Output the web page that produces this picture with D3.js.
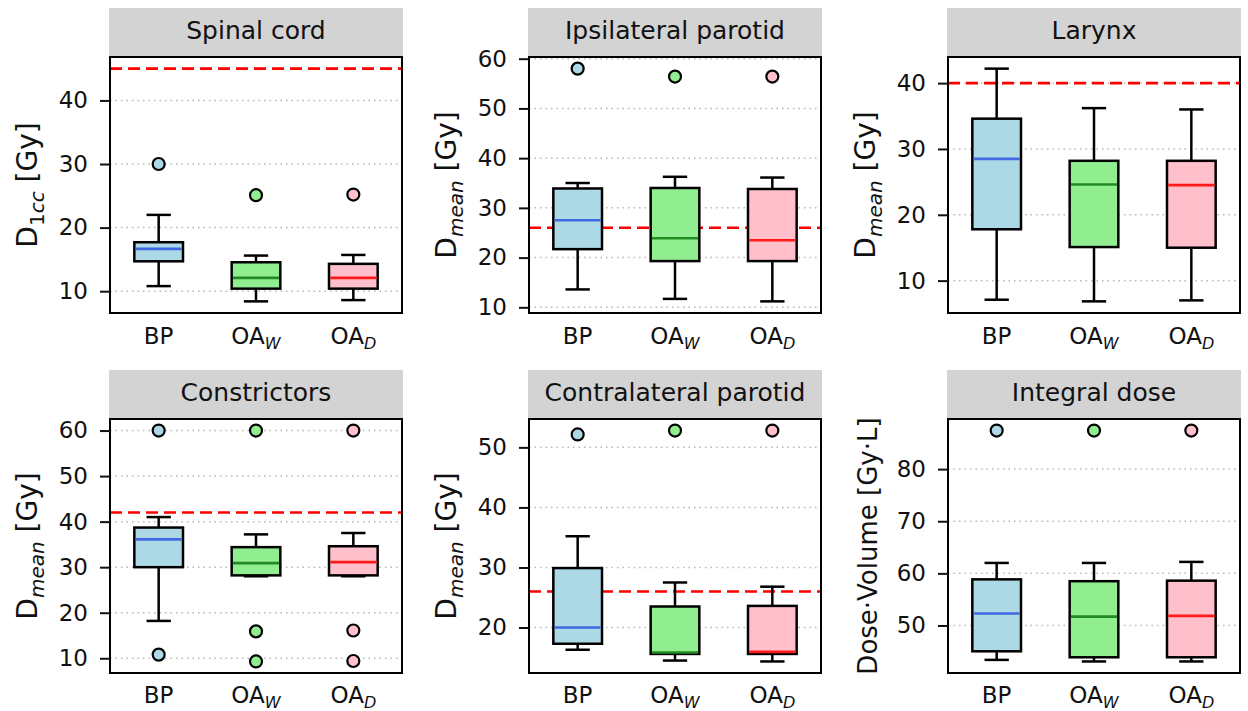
<!DOCTYPE html>
<html lang="en">
<head>
<meta charset="utf-8">
<title>OAR dose comparison</title>
<script src="https://d3js.org/d3.v7.min.js"></script>
<style>
body{margin:0;background:#fff;font-family:"DejaVu Sans",sans-serif;}
.tick text{font-family:"DejaVu Sans",sans-serif;font-size:23px;fill:#111;}
.tick line{stroke:#111;stroke-width:2;}
</style>
</head>
<body>
<div id="chart"></div>
<script>
// panel titles and groups
var organs = ["Spinal cord", "Ipsilateral parotid", "Larynx", "Constrictors", "Contralateral parotid", "Integral dose"];
var groups = ["BP", "OA", "OA"];
var groupSubs = ["", "W", "D"];

// box statistics: [BP, OA_W, OA_D] per organ
var whiskLow = [[10.8, 8.4, 8.6], [13.6, 11.7, 11.2], [7.1, 6.85, 7.0], [18.2, 28.0, 28.0], [16.3, 14.5, 14.35], [43.4, 43.1, 43.1]];
var q1 = [[14.7, 10.4, 10.4], [21.7, 19.3, 19.3], [17.8, 15.1, 15.0], [30.0, 28.2, 28.2], [17.3, 15.6, 15.6], [45.05, 43.9, 43.9]];
var medians = [[16.65, 12.1, 12.1], [27.5, 23.9, 23.5], [28.5, 24.6, 24.5], [36.1, 30.9, 31.1], [20.0, 15.85, 15.95], [52.3, 51.7, 51.85]];
var q3 = [[17.7, 14.55, 14.3], [33.9, 34.0, 33.8], [34.6, 28.2, 28.2], [38.7, 34.4, 34.6], [29.9, 23.5, 23.6], [58.85, 58.5, 58.6]];
var whiskHigh = [[22.0, 15.6, 15.7], [35.0, 36.25, 36.1], [42.2, 36.2, 36.0], [41.0, 37.2, 37.5], [35.2, 27.5, 26.8], [62.0, 62.0, 62.2]];
var outliers = [
  [[30.0], [25.1], [25.2]],
  [[58.0], [56.4], [56.4]],
  [[], [], []],
  [[60.0, 10.8], [60.0, 15.9, 9.3], [60.0, 16.1, 9.4]],
  [[52.15], [52.8], [52.8]],
  [[87.4], [87.4], [87.4]]
];
// dose constraints (red dashed)
var limits = [45, 26, 40, 42, 26, null];

// y ticks and axis labels
var yTicks = [[10, 20, 30, 40], [10, 20, 30, 40, 50, 60], [10, 20, 30, 40], [10, 20, 30, 40, 50, 60], [20, 30, 40, 50], [50, 60, 70, 80]];
var yMain = ["D", "D", "D", "D", "D", "Dose\u00b7Volume [Gy\u00b7L]"];
var ySub = ["1cc", "mean", "mean", "mean", "mean", ""];
var yUnit = [" [Gy]", " [Gy]", " [Gy]", " [Gy]", " [Gy]", ""];

var fills = ["#add8e6", "#90ee90", "#ffc0cb"];
var medColors = ["#4169e1", "#238b23", "#ff1a1a"];

var W = 1248, H = 711;
var colLeft = [110, 529, 948];
var rowTop = [57, 419];
var rowH = [256, 254];
var pw = 292;

var svg = d3.select("#chart").append("svg")
  .attr("width", W).attr("height", H);

organs.forEach(function(name, i) {
  var col = i % 3, row = Math.floor(i / 3);
  var left = colLeft[col], top = rowTop[row], h = rowH[row];
  var g = svg.append("g").attr("transform", "translate(" + left + "," + top + ")");

  // y extent with 5% margins like matplotlib
  var vals = d3.merge([whiskLow[i], whiskHigh[i], d3.merge(outliers[i])]);
  if (limits[i] !== null) vals.push(limits[i]);
  var lo = d3.min(vals), hi = d3.max(vals), pad = (hi - lo) * 0.05;
  var y = d3.scaleLinear().domain([lo - pad, hi + pad]).range([h, 0]);
  var x = d3.scaleBand().domain([0, 1, 2]).range([0, pw]).padding(0);
  var bw = x.bandwidth() * 0.5;

  // header strip
  g.append("rect").attr("x", -1).attr("y", -49).attr("width", pw + 2).attr("height", 48)
    .attr("fill", "#d3d3d3");
  g.append("text").attr("x", pw / 2).attr("y", -18.5).attr("text-anchor", "middle")
    .attr("font-size", "25px").attr("fill", "#111").text(name);

  // grid
  g.selectAll(".grid").data(yTicks[i]).enter().append("line")
    .attr("x1", 0).attr("x2", pw)
    .attr("y1", function(d){ return y(d); }).attr("y2", function(d){ return y(d); })
    .attr("stroke", "#b8b8b8").attr("stroke-width", 1.5).attr("stroke-dasharray", "1.5,4");

  // limit
  if (limits[i] !== null) {
    g.append("line").attr("x1", 0).attr("x2", pw)
      .attr("y1", y(limits[i])).attr("y2", y(limits[i]))
      .attr("stroke", "#ff0000").attr("stroke-width", 2.6).attr("stroke-dasharray", "12,6");
  }

  // boxes
  [0, 1, 2].forEach(function(k) {
    var cx = x(k) + x.bandwidth() / 2;
    var bg = g.append("g");
    // whiskers
    bg.append("line").attr("x1", cx).attr("x2", cx).attr("y1", y(whiskLow[i][k])).attr("y2", y(q1[i][k]))
      .attr("stroke", "#000").attr("stroke-width", 2.5);
    bg.append("line").attr("x1", cx).attr("x2", cx).attr("y1", y(whiskHigh[i][k])).attr("y2", y(q3[i][k]))
      .attr("stroke", "#000").attr("stroke-width", 2.5);
    [whiskLow[i][k], whiskHigh[i][k]].forEach(function(v) {
      bg.append("line").attr("x1", cx - bw / 4).attr("x2", cx + bw / 4).attr("y1", y(v)).attr("y2", y(v))
        .attr("stroke", "#000").attr("stroke-width", 2.5);
    });
    bg.append("rect").attr("x", cx - bw / 2).attr("width", bw)
      .attr("y", y(q3[i][k])).attr("height", y(q1[i][k]) - y(q3[i][k]))
      .attr("fill", fills[k]).attr("stroke", "#000").attr("stroke-width", 2.5);
    bg.append("line").attr("x1", cx - bw / 2 + 1.2).attr("x2", cx + bw / 2 - 1.2)
      .attr("y1", y(medians[i][k])).attr("y2", y(medians[i][k]))
      .attr("stroke", medColors[k]).attr("stroke-width", 2.6);
    bg.selectAll("circle").data(outliers[i][k]).enter().append("circle")
      .attr("cx", cx).attr("cy", function(d){ return y(d); }).attr("r", 6)
      .attr("fill", fills[k]).attr("stroke", "#000").attr("stroke-width", 2.2);
  });

  // frame
  g.append("rect").attr("x", 0).attr("y", 0).attr("width", pw).attr("height", h)
    .attr("fill", "none").attr("stroke", "#000").attr("stroke-width", 2);

  // y axis
  var ax = g.append("g").call(d3.axisLeft(y).tickValues(yTicks[i]).tickSize(10).tickPadding(12).tickFormat(d3.format("d")));
  ax.select(".domain").remove();

  // x labels
  [0, 1, 2].forEach(function(k) {
    var cx = x(k) + x.bandwidth() / 2;
    var t = g.append("text").attr("x", cx).attr("y", h + 31 - row).attr("text-anchor", "middle")
      .attr("font-size", "23px").attr("fill", "#111");
    t.append("tspan").text(groups[k]);
    if (groupSubs[k]) {
      t.append("tspan").attr("dy", 5).attr("font-size", "16px").attr("font-style", "italic").text(groupSubs[k]);
    }
  });

  // y label
  var lx = ySub[i] ? -73 : -71;
  var yl = g.append("text").attr("transform", "translate(" + lx + "," + (h / 2) + ") rotate(-90)")
    .attr("text-anchor", "middle").attr("font-size", ySub[i] ? "28px" : "26px").attr("fill", "#111");
  yl.append("tspan").text(yMain[i]);
  if (ySub[i]) {
    var parts = ySub[i].match(/\d+|[^\d]+/g);
    parts.forEach(function(p, j) {
      var ts = yl.append("tspan").attr("font-size", "20px").text(p);
      if (j === 0) ts.attr("dy", 7);
      if (!/\d/.test(p)) ts.attr("font-style", "italic");
    });
    yl.append("tspan").attr("dy", -7).text(yUnit[i]);
  }
});
</script>
</body>
</html>
